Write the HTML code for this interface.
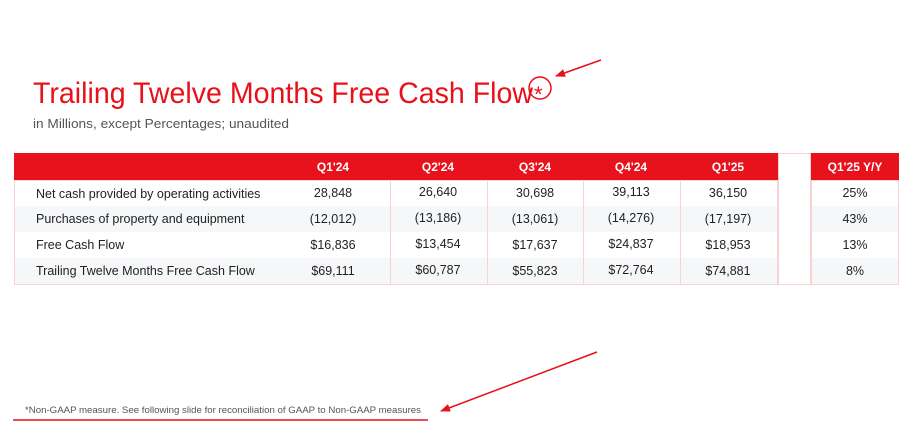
<!DOCTYPE html>
<html><head><meta charset="utf-8"><style>
html,body{margin:0;padding:0;background:#fff;width:919px;height:441px;overflow:hidden}
svg{display:block}
text{font-family:"Liberation Sans",sans-serif}
</style></head><body>
<svg width="919" height="441" viewBox="0 0 919 441" xmlns="http://www.w3.org/2000/svg">
<defs>
<marker id="ah" markerWidth="10" markerHeight="8" refX="9" refY="4" orient="auto" markerUnits="userSpaceOnUse">
<path d="M0,0 L10,4 L0,8 Z" fill="#e8101a"/></marker>
</defs>
<text x="33" y="103" font-size="30" fill="#e8101a" textLength="500" lengthAdjust="spacingAndGlyphs">Trailing Twelve Months Free Cash Flow</text>
<text x="534" y="102" font-size="22" fill="#e8101a">*</text>
<circle cx="540" cy="88" r="11" fill="none" stroke="#e8101a" stroke-width="1.5"/>
<line x1="601" y1="60" x2="556" y2="76" stroke="#e8101a" stroke-width="1.5" marker-end="url(#ah)"/>
<text x="33" y="128" font-size="13" fill="#555" textLength="256" lengthAdjust="spacingAndGlyphs">in Millions, except Percentages; unaudited</text>

<rect x="14" y="153" width="764" height="27" fill="#e8121c"/>
<rect x="811" y="153" width="88" height="27" fill="#e8121c"/>
<rect x="14" y="206" width="764" height="26" fill="#f6f7f9"/>
<rect x="14" y="258" width="764" height="27" fill="#f6f7f9"/>
<rect x="811" y="206" width="88" height="26" fill="#f6f7f9"/>
<rect x="811" y="258" width="88" height="27" fill="#f6f7f9"/>
<g stroke="#f6d4d2" stroke-width="1" fill="none">
<rect x="14.5" y="180.5" width="763" height="104"/>
<rect x="778.5" y="153.5" width="32" height="131"/>
<rect x="811.5" y="180.5" width="87" height="104"/>
<line x1="390.5" y1="180" x2="390.5" y2="285"/>
<line x1="487.5" y1="180" x2="487.5" y2="285"/>
<line x1="583.5" y1="180" x2="583.5" y2="285"/>
<line x1="680.5" y1="180" x2="680.5" y2="285"/>
</g>
<g font-size="12" font-weight="bold" fill="#fff" text-anchor="middle">
<text x="333" y="171">Q1'24</text><text x="438" y="171">Q2'24</text><text x="535" y="171">Q3'24</text>
<text x="631" y="171">Q4'24</text><text x="728" y="171">Q1'25</text><text x="855" y="171">Q1'25 Y/Y</text>
</g>
<g font-size="12.5" fill="#222">
<text x="36" y="198">Net cash provided by operating activities</text>
<text x="36" y="223">Purchases of property and equipment</text>
<text x="36" y="249">Free Cash Flow</text>
<text x="36" y="275">Trailing Twelve Months Free Cash Flow</text>
</g>
<g font-size="12.5" fill="#222" text-anchor="middle">
<text x="333" y="197">28,848</text><text x="438" y="196">26,640</text><text x="535" y="197">30,698</text><text x="631" y="196">39,113</text><text x="728" y="197">36,150</text><text x="855" y="197">25%</text>
<text x="333" y="223">(12,012)</text><text x="438" y="222">(13,186)</text><text x="535" y="223">(13,061)</text><text x="631" y="222">(14,276)</text><text x="728" y="223">(17,197)</text><text x="855" y="223">43%</text>
<text x="333" y="249">$16,836</text><text x="438" y="248">$13,454</text><text x="535" y="249">$17,637</text><text x="631" y="248">$24,837</text><text x="728" y="249">$18,953</text><text x="855" y="249">13%</text>
<text x="333" y="275">$69,111</text><text x="438" y="274">$60,787</text><text x="535" y="275">$55,823</text><text x="631" y="274">$72,764</text><text x="728" y="275">$74,881</text><text x="855" y="275">8%</text>
</g>

<text x="25" y="413" font-size="9" fill="#555" textLength="396" lengthAdjust="spacingAndGlyphs">*Non-GAAP measure. See following slide for reconciliation of GAAP to Non-GAAP measures</text>
<line x1="13" y1="420" x2="428" y2="420" stroke="#e8101a" stroke-width="1.5"/>
<line x1="597" y1="352" x2="441" y2="411" stroke="#e8101a" stroke-width="1.5" marker-end="url(#ah)"/>
</svg>
</body></html>
